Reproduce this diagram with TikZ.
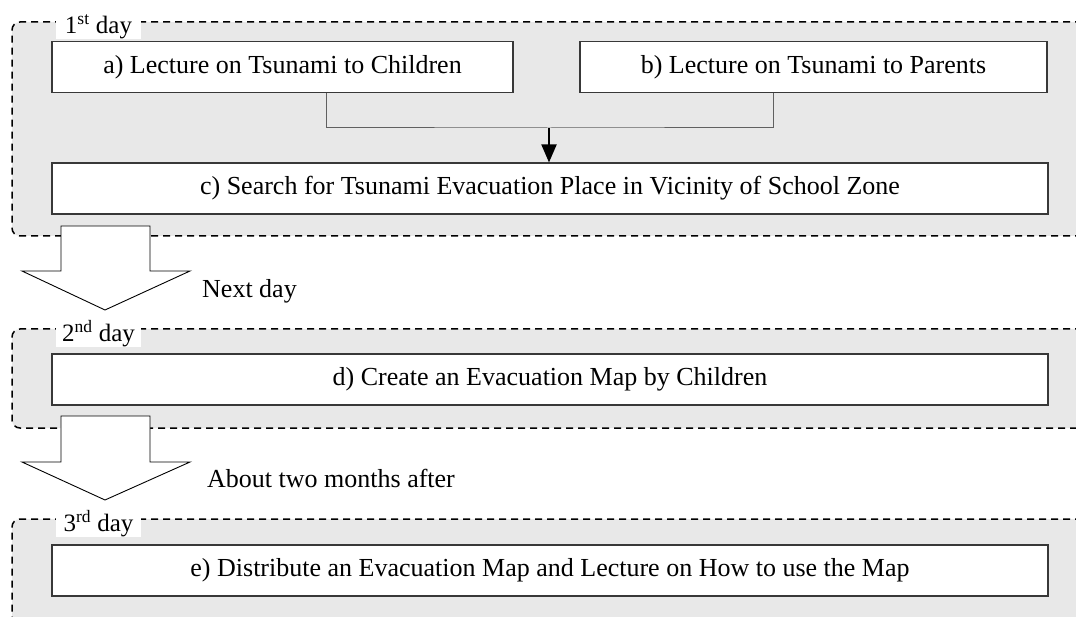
\documentclass[tikz,border=0pt]{standalone}
\usepackage{fontspec}
\setmainfont{Liberation Serif}
\usetikzlibrary{arrows.meta}

\definecolor{panelgray}{HTML}{E8E8E8}
\definecolor{boxline}{HTML}{383838}
\definecolor{joinline}{HTML}{606060}

\tikzset{
  panel/.style = {draw = black, fill = panelgray, line width = 1.5pt,
                  dash pattern = on 7pt off 5pt, rounded corners = 8pt},
  stepbox/.style = {draw = boxline, fill = white, line width = 1.1pt,
                    minimum height = 51pt, inner sep = 0pt,
                    font = \fontsize{26}{30}\selectfont},
  daylabel/.style = {fill = white, inner sep = 0pt, minimum width = 85pt,
                     minimum height = 23pt, font = \fontsize{25}{29}\selectfont},
  gaplabel/.style = {anchor = base west, inner sep = 0pt,
                     font = \fontsize{26}{30}\selectfont},
  bigarrow/.style = {draw = black, fill = white, line width = 0.9pt},
  link/.style = {draw = joinline, line width = 1pt},
}

\begin{document}
\begin{tikzpicture}[x = 1pt, y = -1pt]

\useasboundingbox ( 0, 0 ) rectangle ( 1076, 617 );
\clip ( 0, 0 ) rectangle ( 1076, 617 );

% First day
\path [panel] ( 1090, 22 ) -- ( 12, 22 ) -- ( 12, 236 ) -- ( 1090, 236 ) -- cycle;
\node (day1) at ( 98.5, 27 ) [daylabel] {1\textsuperscript{st} day};

\node (lecChild) at ( 282.5, 67 ) [stepbox, minimum width = 461pt] {a) Lecture on Tsunami to Children};
\node (lecParent) at ( 813.5, 67 ) [stepbox, minimum width = 467pt] {b) Lecture on Tsunami to Parents};
\node (search) at ( 550, 188.5 ) [stepbox, minimum width = 996pt] {c) Search for Tsunami Evacuation Place in Vicinity of School Zone};

\coordinate (join) at ( 549, 128 );
\draw [link] ([xshift = 43.5pt]lecChild.south) |- (join) -| ([xshift = -40.5pt]lecParent.south);
\draw [line width = 2pt, -{Triangle[length = 18pt, width = 15pt]}] (join) -- (join |- search.north);

% To the second day
\path [bigarrow] ( 61, 226 ) -- ( 150, 226 ) -- ( 150, 271 ) -- ( 190, 271 )
  -- ( 105, 310 ) -- ( 22, 271 ) -- ( 61, 271 ) -- cycle;
\node (next) at ( 202, 298 ) [gaplabel] {Next day};

% Second day
\path [panel] ( 1090, 329 ) -- ( 12, 329 ) -- ( 12, 428 ) -- ( 1090, 428 ) -- cycle;
\node (day2) at ( 98.5, 334 ) [daylabel] {2\textsuperscript{nd} day};

\node (mapMake) at ( 550, 379.5 ) [stepbox, minimum width = 996pt] {d) Create an Evacuation Map by Children};

% To the third day
\path [bigarrow] ( 61, 416 ) -- ( 150, 416 ) -- ( 150, 462 ) -- ( 190, 462 )
  -- ( 105, 500 ) -- ( 22, 462 ) -- ( 61, 462 ) -- cycle;
\node (later) at ( 207, 487 ) [gaplabel] {About two months after};

% Third day
\path [panel] ( 1090, 519 ) -- ( 12, 519 ) -- ( 12, 650 ) -- ( 1090, 650 ) -- cycle;
\node (day3) at ( 98.5, 524 ) [daylabel] {3\textsuperscript{rd} day};

\node (mapDist) at ( 550, 570.5 ) [stepbox, minimum width = 996pt] {e) Distribute an Evacuation Map and Lecture on How to use the Map};

\end{tikzpicture}
\end{document}
